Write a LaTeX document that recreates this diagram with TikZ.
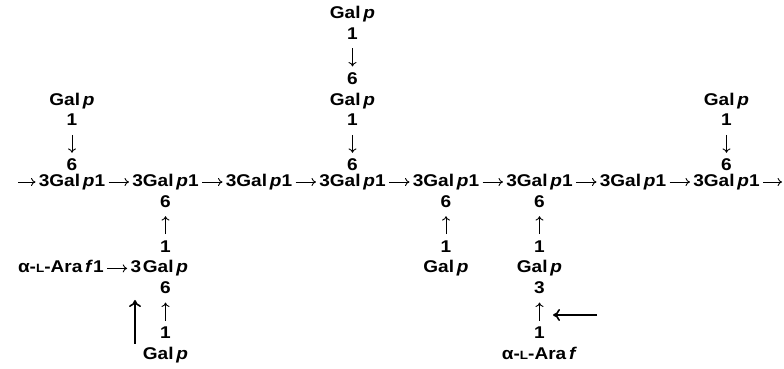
\documentclass[tikz,border=0pt]{standalone}
\usepackage{fontspec}
\setmainfont{Liberation Sans}[FakeStretch=1.12]
\usepackage{tikz}
\usetikzlibrary{arrows.meta,positioning}

\newcommand{\galp}{Gal\,\textit{p}}
\newcommand{\araf}{α-{\fontsize{6}{6}\selectfont L}-Ara\,\textit{f}}

\begin{document}
\begin{tikzpicture}[
    x=0.5pt, y=-0.5pt,
    sugar/.style={inner xsep=1pt, inner ysep=1pt, text height=6.3pt, text depth=1.7pt, font=\fontsize{8.5}{10}\selectfont\bfseries},
    bond/.style={-{To[length=2.2pt,width=4pt]}, line width=0.45pt, shorten >=1.5pt, shorten <=1.5pt},
    link/.style={bond, shorten >=0.5pt, shorten <=0.5pt},
    cut/.style={-{To[length=3.5pt,width=6pt]}, line width=0.8pt}
]
    \useasboundingbox (0,0) rectangle (784,369);

    % Main chain
    \foreach \i in {1,...,8}
        \node[sugar] (u\i) at ({72+93.5*(\i-1)},182) {3\galp1};
    \coordinate (chainin) at (17,182);
    \coordinate (chainout) at (783,182);
    \draw[link] (chainin) -- (u1.west);
    \foreach \i [count=\j from 2] in {1,...,7}
        \draw[link] (u\i.east) -- (u\j.west);
    \draw[link] (u8.east) -- (chainout);

    % Side chains above
    \foreach \i in {1,4,8} {
        \node[sugar, above=-2.5pt of u\i] (u\i s) {6};
        \node[sugar, above=12pt of u\i s] (u\i o) {1};
        \node[sugar, above=0pt of u\i o] (u\i g) {\galp};
        \draw[bond] (u\i o) -- (u\i s);
    }
    \node[sugar, above=0pt of u4g] (u4t) {6};
    \node[sugar, above=12pt of u4t] (u4p) {1};
    \node[sugar, above=0pt of u4p] (u4h) {\galp};
    \draw[bond] (u4p) -- (u4t);

    % Side chains below
    \foreach \i in {2,5,6} {
        \node[sugar, below=0pt of u\i] (u\i s) {6};
        \node[sugar, below=12pt of u\i s] (u\i o) {1};
        \node[sugar, below=0pt of u\i o] (u\i g) {\galp};
        \draw[bond] (u\i o) -- (u\i s);
    }
    \node[sugar, left=-1.5pt of u2g] (u2n) {3};
    \node[sugar, left=11pt of u2n] (u2a) {\araf1};
    \draw[link] (u2a) -- (u2n);
    \node[sugar, below=0pt of u2g] (u2t) {6};
    \node[sugar, below=12pt of u2t] (u2p) {1};
    \node[sugar, below=0pt of u2p] (u2h) {\galp};
    \draw[bond] (u2p) -- (u2t);

    \node[sugar, below=0pt of u6g] (u6t) {3};
    \node[sugar, below=12pt of u6t] (u6p) {1};
    \node[sugar, below=0pt of u6p] (u6h) {\araf};
    \draw[bond] (u6p) -- (u6t);

    % Cleavage marks
    \coordinate (cuta) at (135,344);
    \coordinate (cutb) at (135,300);
    \draw[cut] (cuta) -- (cutb);
    \coordinate (cutc) at (597,315);
    \coordinate (cutd) at (553,315);
    \draw[cut] (cutc) -- (cutd);
\end{tikzpicture}
\end{document}
